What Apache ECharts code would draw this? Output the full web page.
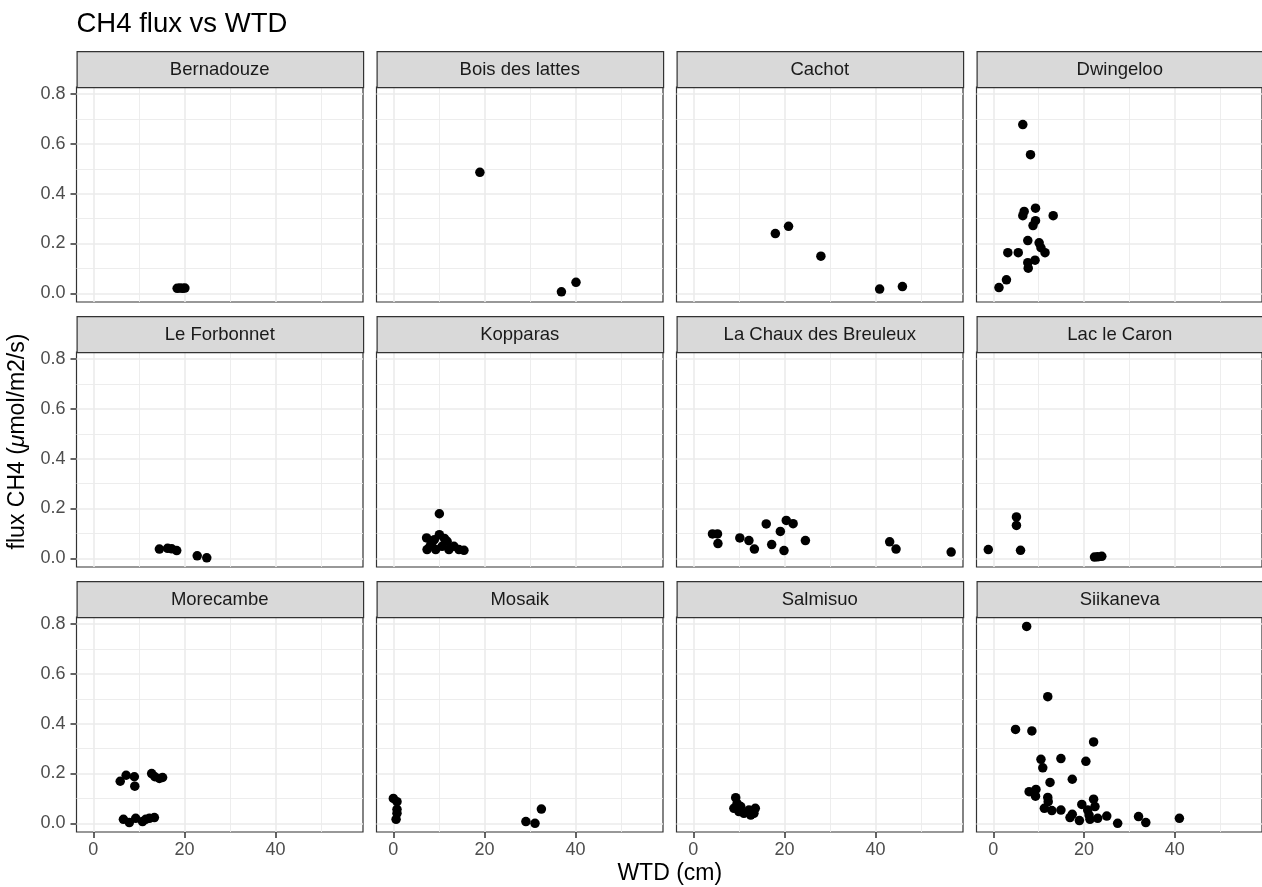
<!DOCTYPE html>
<html>
<head>
<meta charset="utf-8">
<style>
  html, body { margin: 0; padding: 0; background: #ffffff; }
  #chart { width: 1262px; height: 887px; }
</style>
<script src="https://cdn.jsdelivr.net/npm/echarts@6.0.0/dist/echarts.min.js"></script>
</head>
<body>
<div id="chart"></div>
<script>
// ---------------- data (WTD cm, flux CH4 µmol/m2/s) ----------------
const siteNames = ['Bernadouze', 'Bois des lattes', 'Cachot', 'Dwingeloo',
  'Le Forbonnet', 'Kopparas', 'La Chaux des Breuleux', 'Lac le Caron',
  'Morecambe', 'Mosaik', 'Salmisuo', 'Siikaneva'];

const bernadouze = [[18.4, 0.020], [19.0, 0.021], [19.6, 0.020], [20.1, 0.021]];
const boisDesLattes = [[19.0, 0.486], [36.9, 0.006], [40.1, 0.044]];
const cachot = [[18.0, 0.240], [20.9, 0.269], [28.0, 0.149], [40.9, 0.017], [45.9, 0.027]];
const dwingeloo = [[6.5, 0.678], [8.2, 0.557], [6.8, 0.329], [9.3, 0.342], [6.5, 0.312],
  [13.2, 0.312], [9.3, 0.292], [8.75, 0.272], [7.6, 0.212], [10.1, 0.203], [10.5, 0.183],
  [11.4, 0.163], [3.2, 0.163], [5.5, 0.163], [9.2, 0.133], [7.6, 0.123], [7.7, 0.101],
  [2.9, 0.054], [1.25, 0.023]];
const leForbonnet = [[14.5, 0.037], [16.3, 0.040], [17.2, 0.038], [18.3, 0.031], [22.8, 0.010], [24.9, 0.002]];
const kopparas = [[10.1, 0.179], [7.3, 0.082], [10.1, 0.095], [8.5, 0.064], [11.8, 0.068],
  [7.4, 0.035], [9.3, 0.035], [10.7, 0.048], [12.2, 0.035], [13.3, 0.048], [14.4, 0.035],
  [15.5, 0.032], [8.1, 0.050], [9.0, 0.075], [11.2, 0.080]];
const laChaux = [[4.2, 0.098], [5.3, 0.098], [5.4, 0.059], [10.2, 0.082], [12.2, 0.071],
  [13.4, 0.037], [16.0, 0.138], [17.2, 0.055], [19.1, 0.108], [20.4, 0.152], [21.9, 0.139],
  [19.9, 0.031], [24.6, 0.071], [43.1, 0.066], [44.5, 0.037], [56.6, 0.025]];
const lacLeCaron = [[-1.1, 0.035], [5.1, 0.166], [5.1, 0.132], [6.0, 0.032], [22.3, 0.005], [23.0, 0.006], [23.9, 0.008]];
const morecambe = [[5.9, 0.169], [7.2, 0.193], [9.0, 0.187], [9.1, 0.149], [12.8, 0.200],
  [13.5, 0.187], [14.5, 0.180], [15.2, 0.184], [6.6, 0.016], [7.9, 0.003], [9.3, 0.020],
  [10.8, 0.007], [11.5, 0.016], [12.3, 0.020], [13.4, 0.023]];
const mosaik = [[0.0, 0.100], [0.8, 0.087], [0.8, 0.056], [0.8, 0.040], [0.6, 0.016], [29.1, 0.007], [31.1, 0.000], [32.5, 0.057]];
const salmisuo = [[9.3, 0.103], [8.9, 0.060], [10.0, 0.047], [11.1, 0.040], [12.2, 0.053],
  [13.3, 0.040], [13.6, 0.060], [10.4, 0.067], [12.6, 0.033], [9.6, 0.080]];
const siikaneva = [[7.35, 0.791], [12.0, 0.509], [4.9, 0.377], [8.5, 0.371], [22.1, 0.327],
  [10.5, 0.257], [14.9, 0.260], [20.4, 0.249], [10.9, 0.223], [17.4, 0.177], [12.5, 0.164],
  [7.9, 0.127], [9.4, 0.136], [9.3, 0.109], [12.0, 0.104], [22.1, 0.097], [12.1, 0.087],
  [19.5, 0.076], [22.4, 0.067], [11.25, 0.060], [12.9, 0.051], [14.9, 0.053], [20.8, 0.053],
  [17.4, 0.036], [16.9, 0.023], [18.97, 0.011], [21.1, 0.033], [21.3, 0.016], [23.0, 0.020],
  [25.0, 0.029], [27.4, 0.000], [32.0, 0.027], [33.6, 0.003], [41.0, 0.020]];

const siteData = [bernadouze, boisDesLattes, cachot, dwingeloo, leForbonnet, kopparas,
  laChaux, lacLeCaron, morecambe, mosaik, salmisuo, siikaneva];

const xTicks = [0, 20, 40];
const xMinor = [10, 30, 50];
const yTicks = [0, 0.2, 0.4, 0.6, 0.8];
const yMinor = [0.1, 0.3, 0.5, 0.7];
const xRange = [-3.7, 59.2];
const yRange = [-0.035, 0.829];

// ---------------- layout ----------------
const FONT = '"Liberation Sans", Arial, Helvetica, sans-serif';
const colLeft = [76.5, 376.5, 676.5, 976.5];
const panelW = 286.5;
const stripTop = [51, 316, 581];
const stripH = 36;
const plotH = 215;

const grids = [], xAxes = [], yAxes = [], series = [], graphics = [];

siteNames.forEach((name, i) => {
  const r = Math.floor(i / 4), c = i % 4;
  const top = stripTop[r] + stripH;
  grids.push({
    left: colLeft[c], top: top, width: panelW, height: plotH,
    show: true, backgroundColor: '#ffffff', borderColor: '#333333', borderWidth: 1.2,
    containLabel: false
  });
  xAxes.push({
    type: 'value', gridIndex: i, min: xRange[0], max: xRange[1], position: 'bottom',
    axisLine: { show: false, onZero: false },
    axisTick: { show: r === 2, customValues: xTicks, length: 6, lineStyle: { color: '#333333', width: 1.5 } },
    axisLabel: { show: r === 2, customValues: xTicks, margin: 9, fontSize: 18, color: '#4d4d4d', fontFamily: FONT },
    splitLine: { show: false }
  });
  yAxes.push({
    type: 'value', gridIndex: i, min: yRange[0], max: yRange[1], position: 'left',
    axisLine: { show: false, onZero: false },
    axisTick: { show: c === 0, customValues: yTicks, length: 6, lineStyle: { color: '#333333', width: 1.5 } },
    axisLabel: { show: c === 0, customValues: yTicks, margin: 11, fontSize: 18, color: '#4d4d4d', fontFamily: FONT,
      formatter: v => Number(v).toFixed(1) },
    splitLine: { show: false }
  });
  const lines = [];
  xMinor.forEach(v => lines.push({ xAxis: v, lineStyle: { width: 0.9 } }));
  yMinor.forEach(v => lines.push({ yAxis: v, lineStyle: { width: 0.9 } }));
  xTicks.forEach(v => lines.push({ xAxis: v, lineStyle: { width: 1.6 } }));
  yTicks.forEach(v => lines.push({ yAxis: v, lineStyle: { width: 1.6 } }));
  series.push({
    type: 'scatter', xAxisIndex: i, yAxisIndex: i, data: [], z: 1, silent: true,
    markLine: {
      z: 1, silent: true, symbol: ['none', 'none'], animation: false,
      label: { show: false },
      lineStyle: { color: '#ebebeb', type: 'solid' },
      data: lines
    }
  });
  series.push({
    type: 'scatter', name: name, xAxisIndex: i, yAxisIndex: i, data: siteData[i],
    symbol: 'circle', symbolSize: 9.5, z: 3,
    itemStyle: { color: '#000000', opacity: 1 }
  });
  // facet strip
  graphics.push({
    type: 'rect', left: colLeft[c], top: stripTop[r], z: 10,
    shape: { width: panelW, height: stripH },
    style: { fill: '#d9d9d9', stroke: '#333333', lineWidth: 1.2 }
  });
  graphics.push({
    type: 'text', x: colLeft[c] + panelW / 2, y: stripTop[r] + stripH / 2 + 0.5, z: 11,
    style: { text: name, fill: '#1a1a1a', font: '18.5px ' + FONT, align: 'center', verticalAlign: 'middle' }
  });
});

// titles
graphics.push({
  type: 'text', x: 76.5, y: 24.5, z: 11,
  style: { text: 'CH4 flux vs WTD', fill: '#000000', font: '27.5px ' + FONT, align: 'left', verticalAlign: 'middle' }
});
graphics.push({
  type: 'text', x: (colLeft[0] + colLeft[3] + panelW) / 2, y: 874, z: 11,
  style: { text: 'WTD (cm)', fill: '#000000', font: '23px ' + FONT, align: 'center', verticalAlign: 'middle' }
});
graphics.push({
  type: 'text', x: 18, y: (stripTop[0] + stripTop[2] + stripH + plotH) / 2, rotation: Math.PI / 2, z: 11,
  style: {
    text: '{a|flux CH4 (}{b|μ}{a|mol/m2/s)}',
    align: 'center', verticalAlign: 'middle',
    rich: {
      a: { fontSize: 23, fontFamily: FONT, fill: '#000000' },
      b: { fontSize: 23, fontFamily: FONT, fontStyle: 'italic', fill: '#000000' }
    }
  }
});

const chart = echarts.init(document.getElementById('chart'), null, { renderer: 'canvas' });
chart.setOption({
  animation: false,
  backgroundColor: '#ffffff',
  grid: grids,
  xAxis: xAxes,
  yAxis: yAxes,
  series: series,
  graphic: graphics
});
</script>
</body>
</html>
